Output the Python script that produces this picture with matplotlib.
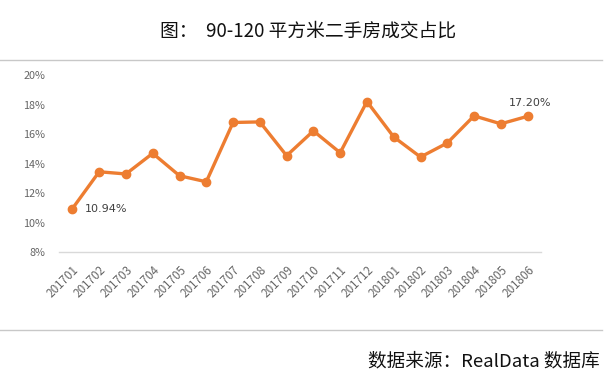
import matplotlib
matplotlib.use("Agg")
import matplotlib.pyplot as plt
from matplotlib.lines import Line2D
from matplotlib.ticker import FuncFormatter

plt.rcParams['font.family'] = ['Noto Sans CJK SC', 'DejaVu Sans']

months = ["201701", "201702", "201703", "201704", "201705", "201706",
          "201707", "201708", "201709", "201710", "201711", "201712",
          "201801", "201802", "201803", "201804", "201805", "201806"]
share = [10.94, 13.44, 13.29, 14.69, 13.17, 12.76, 16.78, 16.82, 14.53,
         16.21, 14.73, 18.20, 15.80, 14.44, 15.39, 17.23, 16.69, 17.20]
yticks = [8, 10, 12, 14, 16, 18, 20]
title = "图：  90-120 平方米二手房成交占比"
source = "数据来源：RealData 数据库"

W, H = 607, 369
fig = plt.figure(figsize=(W / 100, H / 100), dpi=100)
ax = fig.add_axes([59 / W, 1 - 252 / H, (541 - 59) / W, (252 - 75) / H])

orange = "#ED7D31"
gray = "#666666"
x = list(range(len(months)))
ax.plot(x, share, color=orange, lw=2.4, marker="o", ms=6, solid_capstyle="round",
        solid_joinstyle="round", zorder=3)

ax.set_xlim(-0.5, len(months) - 0.5)
ax.set_ylim(8, 20)
ax.set_yticks(yticks)
ax.yaxis.set_major_formatter(FuncFormatter(lambda v, p: f"{v:.0f}%"))
ax.set_xticks(x)
ax.set_xticklabels(months, rotation=45, ha="right", va="top", rotation_mode="anchor")
ax.tick_params(axis="both", length=0, labelcolor=gray)
ax.tick_params(axis="y", pad=10, labelsize=7.8)
ax.tick_params(axis="x", pad=8, labelsize=8.4)
for s in ["top", "right", "left"]:
    ax.spines[s].set_visible(False)
ax.spines["bottom"].set_color("#d9d9d9")
ax.spines["bottom"].set_linewidth(1)

ax.annotate(f"{share[0]:.2f}%", (x[0], share[0]), xytext=(9, 0), textcoords="offset points",
            ha="left", va="center", fontsize=8, color="#404040", family="DejaVu Sans")
ax.annotate(f"{share[-1]:.2f}%", (x[-1], share[-1]), xytext=(2, 6), textcoords="offset points",
            ha="center", va="bottom", fontsize=8, color="#404040", family="DejaVu Sans")

fig.text(308 / W, 1 - 31 / H, title, ha="center", va="center", fontsize=13.5, color="#111111")
fig.add_artist(Line2D([0, 602 / W], [1 - 60 / H, 1 - 60 / H], color="#c8c8c8", lw=1,
                      transform=fig.transFigure))
fig.add_artist(Line2D([0, 602 / W], [1 - 330 / H, 1 - 330 / H], color="#c8c8c8", lw=1,
                      transform=fig.transFigure))
fig.text(600 / W, 1 - 361 / H, source, ha="right", va="center", fontsize=13.4, color="#111111")

fig.savefig("out.png", dpi=100, facecolor="white")
